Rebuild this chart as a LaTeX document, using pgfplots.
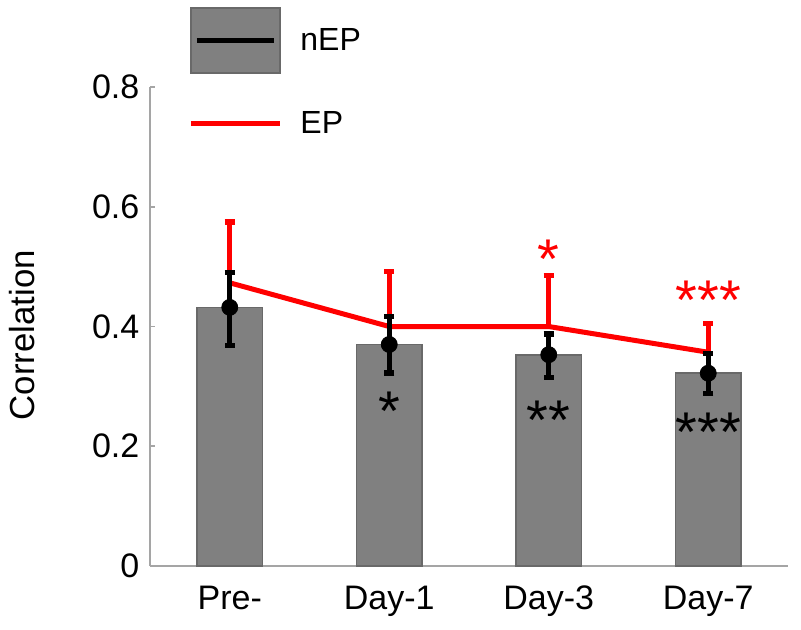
\documentclass[border=0pt]{standalone}
\usepackage{pgfplots}
\pgfplotsset{compat=1.18}
\usepackage{pgfplotstable}
\usepackage{fontspec}
\setmainfont{Liberation Sans}
\definecolor{barfill}{RGB}{128,128,128}
\definecolor{baredge}{RGB}{105,105,105}
\definecolor{axgray}{RGB}{165,165,165}
\definecolor{epred}{RGB}{255,0,0}

\pgfplotstableread{
x y
0 0.432
1 0.370
2 0.352
3 0.322
}\bars

\pgfplotstableread{
x y ep em
0 0.432 0.058 0.064
1 0.370 0.047 0.048
2 0.353 0.035 0.038
3 0.322 0.033 0.034
}\nep

\pgfplotstableread{
x y ep
0 0.473 0.102
1 0.400 0.092
2 0.400 0.085
3 0.357 0.048
}\ep

\begin{document}
\begin{tikzpicture}
\path[use as bounding box] (-75pt,-31.5pt) rectangle (325.5pt,283pt);
\begin{axis}[
  at={(0,0)}, anchor=south west,
  scale only axis, width=319pt, height=239.5pt,
  xmin=-0.5, xmax=3.5, ymin=0, ymax=0.8,
  axis x line=bottom, axis y line=left,
  axis line style={-, draw=axgray, line width=1pt},
  xtick={0,1,2,3}, xticklabels={Pre-,Day-1,Day-3,Day-7},
  major x tick style={draw=none},
  ytick={0,0.2,0.4,0.6,0.8},
  y tick style={draw=axgray, line width=0.8pt},
  tick align=inside, major tick length=2.5pt,
  /pgf/number format/assume math mode=true,
  tick label style={font=\fontsize{17}{20}\selectfont},
  yticklabel style={xshift=-1.8pt},
  xticklabel style={yshift=-6.5pt},
  ylabel={Correlation},
  every axis y label/.style={at={(axis description cs:-0.2006,0.482)}, rotate=90, anchor=center, font=\fontsize{17.4}{20}\selectfont},
  clip=false,
  legend style={at={(axis description cs:0.0596,1.167)}, anchor=north west,
    draw=none, fill=none, inner sep=0pt, row sep=18.5pt,
    font=\fontsize{16}{19}\selectfont,
    nodes={inner sep=0pt},
    /tikz/every odd column/.append style={column sep=9pt}},
  legend cell align=left,
]
\addlegendimage{legend image code/.code={
  \draw[fill=barfill, draw=baredge, line width=0.8pt] (0pt,-16.25pt) rectangle (44.5pt,16.25pt);
  \draw[black, line width=2.5pt] (3pt,0pt) -- (41.5pt,0pt);}}
\addlegendentry{nEP}
\addlegendimage{legend image code/.code={
  \draw[epred, line width=2.5pt] (0pt,0pt) -- (44.5pt,0pt);}}
\addlegendentry{EP}

\addplot[ybar, bar width=0.41, bar shift=0pt, fill=barfill, draw=baredge, line width=0.8pt, forget plot]
  table[x=x, y=y] {\bars};

\addplot[epred, line width=2.5pt, no markers, forget plot,
  error bars/.cd, y dir=plus, y explicit,
  error bar style={line width=2.5pt, epred},
  error mark options={rotate=90, mark size=2.6pt, line width=2.8pt, epred}]
  table[x=x, y=y, y error plus=ep] {\ep};

\addplot[black, only marks, mark=*, mark size=4pt, forget plot,
  error bars/.cd, y dir=both, y explicit,
  error bar style={line width=2.5pt, black},
  error mark options={rotate=90, mark size=2.6pt, line width=2.8pt, black}]
  table[x=x, y=y, y error plus=ep, y error minus=em] {\nep};

\node[anchor=base, yshift=-16pt, font=\fontsize{28}{30}\selectfont, text=black] at (axis cs:1,0.279) {*};
\node[anchor=base, yshift=-16pt, font=\fontsize{28}{30}\selectfont, text=black] at (axis cs:2,0.264) {**};
\node[anchor=base, yshift=-16pt, font=\fontsize{28}{30}\selectfont, text=black] at (axis cs:3,0.245) {***};
\node[anchor=base, yshift=-16pt, font=\fontsize{28}{30}\selectfont, text=epred] at (axis cs:2,0.534) {*};
\node[anchor=base, yshift=-16pt, font=\fontsize{28}{30}\selectfont, text=epred] at (axis cs:3,0.465) {***};
\end{axis}
\end{tikzpicture}
\end{document}
